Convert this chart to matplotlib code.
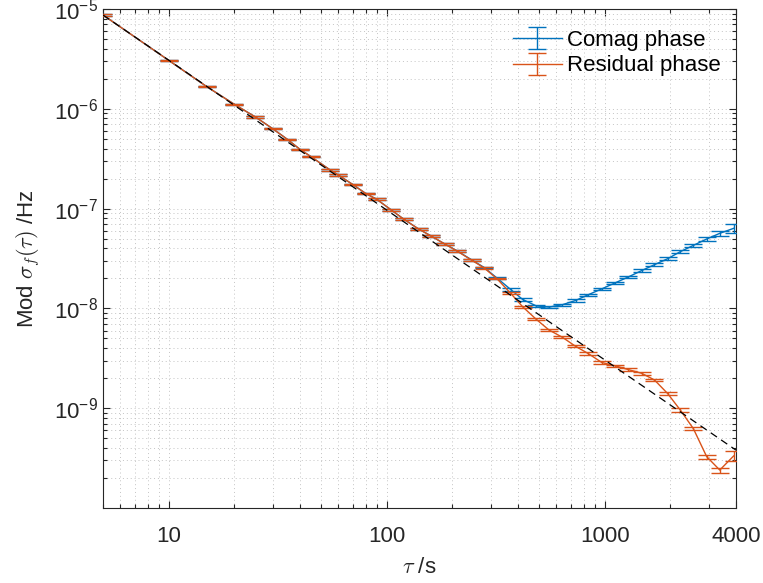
import numpy as np
import matplotlib
matplotlib.use("Agg")
import matplotlib.pyplot as plt
from matplotlib.ticker import FixedLocator, NullFormatter

plt.rcParams['font.family'] = ['Liberation Sans', 'DejaVu Sans']
plt.rcParams['mathtext.fontset'] = 'cm'

# averaging times (s)
tau = [5, 10, 15, 20, 25, 30, 35, 40, 45, 55, 60, 70, 80, 90, 105, 120, 140, 160,
       185, 210, 245, 280, 320, 370, 420, 485, 555, 640, 735, 840, 970, 1115, 1280,
       1475, 1690, 1945, 2220, 2550, 2935, 3370, 3900]

# modified Allan deviation (Hz)
comag = [8.71e-6, 3.06e-6, 1.66e-6, 1.11e-6, 8.28e-7, 6.32e-7, 4.95e-7, 3.93e-7,
         3.31e-7, 2.44e-7, 2.17e-7, 1.74e-7, 1.42e-7, 1.24e-7, 9.68e-8, 7.81e-8,
         6.25e-8, 5.31e-8, 4.41e-8, 3.78e-8, 3.07e-8, 2.57e-8, 2.02e-8, 1.55e-8,
         1.23e-8, 1.06e-8, 1.03e-8, 1.09e-8, 1.20e-8, 1.37e-8, 1.57e-8, 1.80e-8,
         2.06e-8, 2.39e-8, 2.74e-8, 3.15e-8, 3.70e-8, 4.28e-8, 4.96e-8, 5.65e-8,
         6.34e-8]
residual = [8.71e-6, 3.06e-6, 1.66e-6, 1.11e-6, 8.28e-7, 6.32e-7, 4.95e-7, 3.93e-7,
            3.31e-7, 2.44e-7, 2.17e-7, 1.74e-7, 1.42e-7, 1.24e-7, 9.68e-8, 7.81e-8,
            6.25e-8, 5.31e-8, 4.41e-8, 3.76e-8, 3.05e-8, 2.54e-8, 1.99e-8, 1.42e-8,
            1.04e-8, 7.78e-9, 6.08e-9, 5.13e-9, 4.17e-9, 3.53e-9, 2.87e-9, 2.66e-9,
            2.44e-9, 2.24e-9, 1.92e-9, 1.40e-9, 9.6e-10, 6.24e-10, 3.27e-10, 2.40e-10,
            3.32e-10]

# relative 1-sigma error bars
comag_rel = [0.015] * 11 + [0.02] * 12 + [0.025] * 8 + [0.03] * 5 + [0.035, 0.04, 0.045, 0.05, 0.10]
residual_rel = [0.015] * 11 + [0.02] * 12 + [0.025] * 8 + [0.03] * 5 + [0.035, 0.04, 0.05, 0.06, 0.11]

# tau^-3/2 reference line end points
ref_tau = [5, 4000]
ref_val = [8.7e-6, 3.8e-10]

blue = '#0072BD'
orange = '#D95319'
ink = '#262626'

fig = plt.figure(figsize=(7.63, 5.83), dpi=100)
ax = fig.add_axes([103 / 763, 1 - 508 / 583, 633 / 763, 499 / 583])

t = np.array(tau)
c = np.array(comag)
r = np.array(residual)
ax.errorbar(t, c, yerr=c * np.array(comag_rel), color=blue, lw=1.0, elinewidth=1.0,
            capsize=6.5, capthick=1.0, label='Comag phase', zorder=3)
ax.errorbar(t, r, yerr=r * np.array(residual_rel), color=orange, lw=1.0, elinewidth=1.0,
            capsize=6.5, capthick=1.0, label='Residual phase', zorder=4)
ax.plot(ref_tau, ref_val, color='k', lw=0.9, dashes=(6, 4), zorder=5)

ax.set_xscale('log')
ax.set_yscale('log')
ax.set_xlim(5, 4000)
ax.set_ylim(1e-10, 1e-5)

ax.xaxis.set_major_locator(FixedLocator([10, 100, 1000, 4000]))
ax.set_xticklabels(['10', '100', '1000', '4000'])
ax.xaxis.set_minor_formatter(NullFormatter())
ax.yaxis.set_major_locator(FixedLocator([1e-9, 1e-8, 1e-7, 1e-6, 1e-5]))
ax.yaxis.set_minor_formatter(NullFormatter())

ax.grid(True, which='both', ls=(0, (1, 3)), color='#c4c4c4', lw=0.7)
ax.set_axisbelow(True)
ax.tick_params(which='both', direction='in', top=True, right=True, colors=ink,
               labelsize=16, width=0.8)
ax.tick_params(which='major', length=5)
ax.tick_params(which='minor', length=3)
ax.tick_params(axis='x', which='major', pad=13)
for s in ax.spines.values():
    s.set_color(ink)
    s.set_linewidth(0.8)

ax.set_xlabel(r'$\tau$ /s', fontsize=16, color=ink, labelpad=7)
ax.set_ylabel(r'Mod $\sigma_f(\tau)$ /Hz', fontsize=16, color=ink, labelpad=9)

ax.legend(loc='upper left', bbox_to_anchor=((513 - 103) / 633, (508 - 30) / 499),
          frameon=False, fontsize=16, borderpad=0, borderaxespad=0,
          handlelength=2.2, handletextpad=0.25, labelspacing=0.2)

fig.savefig('out.png', dpi=100)
